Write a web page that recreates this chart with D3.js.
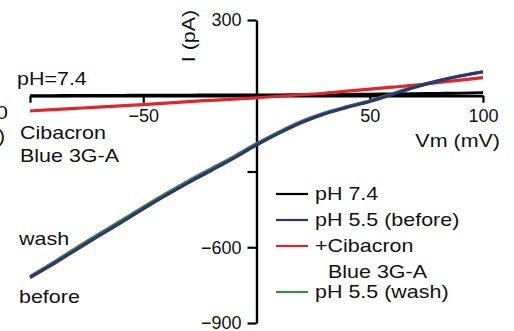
<!DOCTYPE html>
<html lang="en">
  <head>
    <meta charset="UTF-8" />
    <title>I-V curves</title>
    <script src="https://d3js.org/d3.v7.min.js"></script>
    <style>
      body {
        margin: 0;
        background: #fff;
      }
      svg text {
        font-family: Arial, "Liberation Sans", sans-serif;
        font-size: 19px;
        fill: #111;
      }
      svg .tick text {
        font-size: 18px;
      }
    </style>
  </head>
  <body>
    <svg id="iv" width="514" height="331"></svg>
    <script>
      // voltage steps (mV)
      const vm = [-100, -90, -80, -70, -60, -50, -40, -30, -20, -10, 0, 10, 20, 30, 40, 50, 60, 70, 80, 90, 100];

      // currents (pA)
      const ph74 = [0, 0, 1, 1, 1, 2, 2, 2, 3, 3, 3, 3, 4, 4, 5, 6, 7, 8, 9, 10, 12];
      const ph55Before = [-720, -668, -612, -557, -503, -448, -395, -344, -296, -247, -195, -148, -106, -72, -46, -23, 5, 34, 58, 78, 95];
      const cibacron = [-60, -55, -50, -45, -40, -35, -29, -23, -18, -13, -8, -2, 4, 10, 18, 26, 34, 42, 52, 62, 72];
      const ph55Wash = [-716, -662, -605, -550, -496, -441, -388, -337, -289, -241, -190, -143, -101, -68, -43, -20, 8, 36, 59, 79, 94];

      const xTicks = [-100, -50, 50, 100];
      const yTicks = [300, -300, -600, -900];
      const yLabelled = [300, -600, -900];

      const series = [
        { name: "pH 7.4", values: ph74, color: "#000000" },
        { name: "+Cibacron", values: cibacron, color: "#e0262b" },
        { name: "pH 5.5 (wash)", values: ph55Wash, color: "#3b8a40" },
        { name: "pH 5.5 (before)", values: ph55Before, color: "#2e3474" },
      ];

      const svg = d3.select("#iv");
      const stretch = 1.13; // the text in the figure runs a bit wide

      const x = d3.scaleLinear().domain([-100, 100]).range([30, 483]);
      const y = d3.scaleLinear().domain([-900, 300]).range([323, 20]);

      const minus = (d) => String(d).replace("-", "−");

      // axes crossing at the origin
      const xAxis = svg
        .append("g")
        .attr("transform", `translate(0,${y(0)})`)
        .call(
          d3
            .axisBottom(x)
            .tickValues(xTicks)
            .tickSize(7)
            .tickSizeOuter(0)
            .tickPadding(6)
            .tickFormat((d) => (d === -100 ? "" : minus(d)))
        );

      const yAxis = svg
        .append("g")
        .attr("transform", `translate(${x(0)},0)`)
        .call(
          d3
            .axisLeft(y)
            .tickValues(yTicks)
            .tickSize(9)
            .tickSizeOuter(0)
            .tickPadding(6)
            .tickFormat((d) => (yLabelled.includes(d) ? minus(d) : ""))
        );

      [xAxis, yAxis].forEach((g) => {
        g.attr("font-size", null).attr("font-family", null);
        g.select(".domain").attr("stroke", "#000").attr("stroke-width", 2.4);
        g.selectAll(".tick line").attr("stroke", "#000").attr("stroke-width", 2.2);
      });

      // traces
      const line = d3
        .line()
        .x((d, i) => x(vm[i]))
        .y((d) => y(d))
        .curve(d3.curveMonotoneX);

      svg
        .selectAll(".trace")
        .data(series)
        .join("path")
        .attr("class", "trace")
        .attr("fill", "none")
        .attr("stroke", (d) => d.color)
        .attr("stroke-width", 3.2)
        .attr("stroke-linejoin", "round")
        .attr("d", (d) => line(d.values));

      // plain text helper, widened like the original lettering
      function label(str, px, py, anchor = "start", rot = 0) {
        return svg
          .append("text")
          .attr("text-anchor", anchor)
          .attr("transform", `translate(${px},${py}) rotate(${rot}) scale(${stretch},1)`)
          .text(str);
      }

      // axis titles
      label("Vm (mV)", 500, 147, "end");
      label("I (pA)", 195, 36, "middle", -90);

      // annotations on the left
      label("pH=7.4", 17, 85);
      label("Cibacron", 20, 139);
      label("Blue 3G-A", 20, 162);
      label("wash", 19, 245);
      label("before", 19, 303);

      // cut-off bits of the neighbouring panel
      label("0", -4, 119);
      label(")", -2, 142);

      // legend
      const legend = [
        { label: ["pH 7.4"], color: "#000000", y: 194 },
        { label: ["pH 5.5 (before)"], color: "#2e3474", y: 220 },
        { label: ["+Cibacron", "Blue 3G-A"], color: "#e0262b", y: 246 },
        { label: ["pH 5.5 (wash)"], color: "#3b8a40", y: 292 },
      ];
      legend.forEach((d) => {
        svg
          .append("line")
          .attr("x1", 276)
          .attr("x2", 308)
          .attr("y1", d.y)
          .attr("y2", d.y)
          .attr("stroke", d.color)
          .attr("stroke-width", 2.2);
        d.label.forEach((t, i) => label(t, i === 0 ? 315 : 328, d.y + 6 + i * 26));
      });
    </script>
  </body>
</html>
